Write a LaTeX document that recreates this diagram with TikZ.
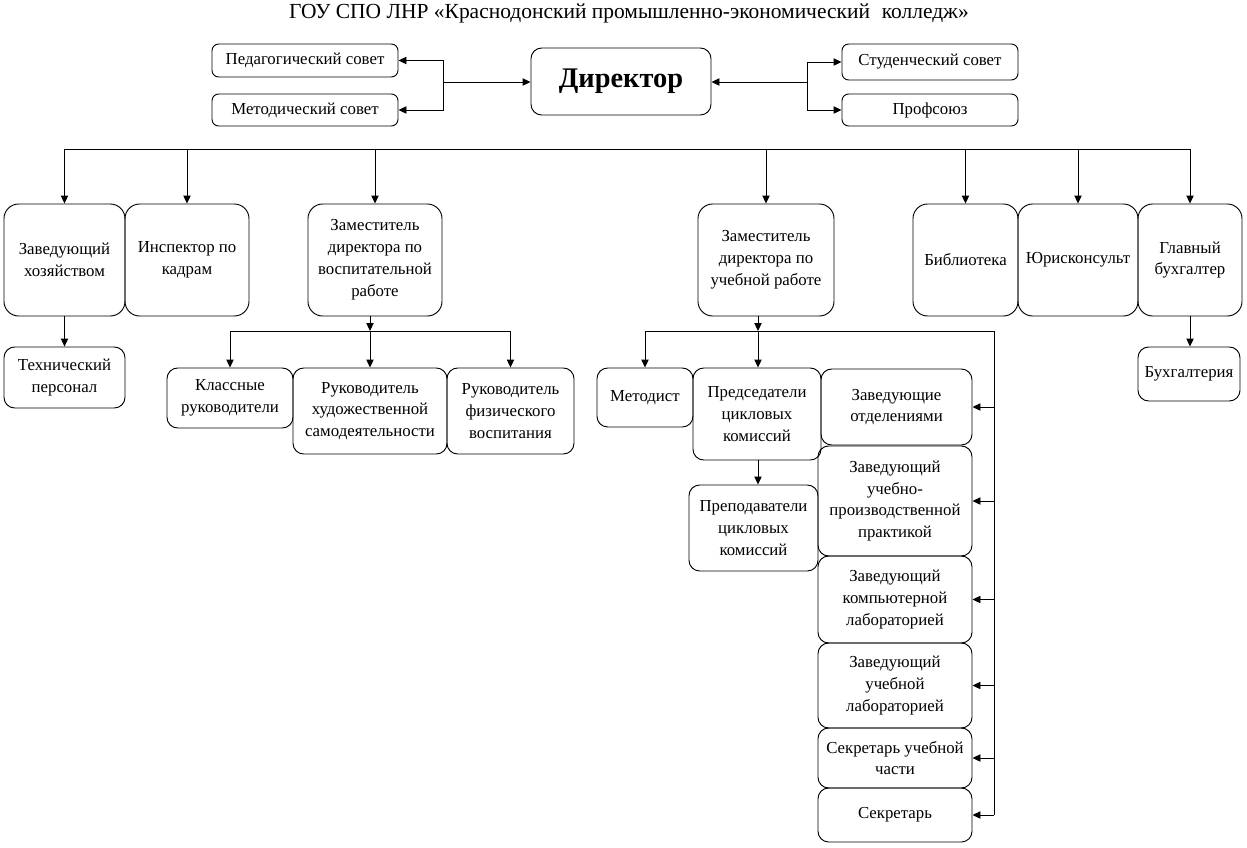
\documentclass[tikz,border=0pt]{standalone}
\usepackage{fontspec}
\setmainfont{Liberation Serif}
\usetikzlibrary{arrows.meta}
\newcommand\mkbox[7]{%
  \pgfmathsetmacro\bw{(#5-#3)*0.75}%
  \pgfmathsetmacro\bh{(#6-#4)*0.75}%
  \node[#1, minimum width=\bw pt, minimum height=\bh pt] (#2) at ({(#3+#5)/2},{(#4+#6)/2}) {#7};%
}
\tikzset{
  base/.style={draw, line width=0.7pt, inner sep=0pt, align=center,
    font=\fontsize{12.6}{16.4}\selectfont},
  sbox/.style={base, rounded corners=5pt},
  mbox/.style={base, rounded corners=8pt},
  lbox/.style={base, rounded corners=11pt},
  conn/.style={line width=0.7pt},
  arr/.style={conn, -{Triangle[length=6pt,width=5.5pt]}},
}
\begin{document}
\begin{tikzpicture}[x=0.75pt,y=-0.75pt]
\useasboundingbox (0,0) rectangle (1247,847);
\node[font=\fontsize{16.1}{20}\selectfont] (title) at (629,13) {ГОУ СПО ЛНР «Краснодонский промышленно-экономический\hspace{0.55em}колледж»};
% top
\mkbox{sbox}{ped}{212}{44}{398}{77}{Педагогический совет}
\mkbox{sbox}{met}{212}{94}{398}{126}{Методический совет}
\mkbox{mbox,font=\fontsize{21.3}{26}\bfseries}{dir}{531}{48}{711}{115}{Директор}
\mkbox{sbox}{stud}{842}{44}{1018}{80}{Студенческий совет}
\mkbox{sbox}{prof}{842}{94}{1018}{126}{Профсоюз}
% row 2
\mkbox{lbox}{zavx}{4}{204}{125}{316}{Заведующий\\хозяйством}
\mkbox{lbox}{insp}{125}{204}{249}{316}{Инспектор по\\кадрам}
\mkbox{lbox}{zv}{308}{204}{442}{316}{Заместитель\\директора по\\воспитательной\\работе}
\mkbox{lbox}{zu}{698}{204}{834}{316}{Заместитель\\директора по\\учебной работе}
\mkbox{lbox}{bib}{913}{204}{1018}{316}{Библиотека}
\mkbox{lbox}{yur}{1018}{204}{1138}{316}{Юрисконсульт}
\mkbox{lbox}{glb}{1138}{204}{1242}{316}{Главный\\бухгалтер}
% row 3
\mkbox{mbox}{tech}{4}{347}{125}{408}{Технический\\персонал}
\mkbox{mbox}{kl}{167}{368}{293}{428}{Классные\\руководители}
\mkbox{mbox}{rhud}{293}{368}{447}{454}{Руководитель\\художественной\\самодеятельности}
\mkbox{mbox}{rfiz}{447}{368}{574}{454}{Руководитель\\физического\\воспитания}
\mkbox{mbox}{metd}{597}{368}{693}{427}{Методист}
\mkbox{mbox}{pred}{693}{368}{821}{460}{Председатели\\цикловых\\комиссий}
\mkbox{mbox}{zo}{821}{369}{972}{445}{Заведующие\\отделениями}
\mkbox{mbox}{prep}{689}{485}{818}{571}{Преподаватели\\цикловых\\комиссий}
\mkbox{mbox}{zupp}{818}{446}{972}{556}{Заведующий\\учебно-\\производственной\\практикой}
\mkbox{mbox}{zkl}{818}{556}{972}{643}{Заведующий\\компьютерной\\лабораторией}
\mkbox{mbox}{zul}{818}{643}{972}{728}{Заведующий\\учебной\\лабораторией}
\mkbox{mbox}{sus}{818}{728}{972}{788}{Секретарь учебной\\части}
\mkbox{mbox}{sec}{818}{788}{972}{842}{Секретарь}
\mkbox{mbox}{buh}{1138}{347}{1240}{401}{Бухгалтерия}
% top connectors
\coordinate (bL) at (443,82);
\coordinate (bR) at (807,82);
\draw[arr] (bL) -- (dir.west |- bL);
\draw[arr] (bL) |- (ped.east);
\draw[arr] (bL) |- (met.east);
\draw[arr] (bR) -- (dir.east |- bR);
\draw[arr] (bR) |- (stud.west);
\draw[arr] (bR) |- (prof.west);
% bus
\coordinate (bus) at (0,149);
\draw[conn] (zavx.north |- bus) -- (glb.north |- bus);
\foreach \n in {zavx,insp,zv,zu,bib,yur,glb}
  \draw[arr] (\n.north |- bus) -- (\n.north);
\draw[arr] (zavx.south) -- (tech.north);
\draw[arr] (glb.south) -- (glb.south |- buh.north);
% vospit
\coordinate (vj) at (370,331);
\draw[arr] (zv.south -| vj) -- (vj);
\draw[conn] (kl.north |- vj) -- (rfiz.north |- vj);
\draw[arr] (vj) -- (vj |- rhud.north);
\draw[arr] (kl.north |- vj) -- (kl.north);
\draw[arr] (rfiz.north |- vj) -- (rfiz.north);
% ucheb
\coordinate (uj) at (758,331);
\coordinate (ur) at (994,331);
\draw[arr] (zu.south -| uj) -- (uj);
\draw[conn] (metd.north |- uj) -- (ur) -- (ur |- sec.east);
\draw[arr] (metd.north |- uj) -- (metd.north);
\draw[arr] (uj) -- (uj |- pred.north);
\foreach \n in {zo,zupp,zkl,zul,sus,sec}
  \draw[arr] (ur |- \n.east) -- (\n.east);
\draw[arr] (uj |- pred.south) -- (uj |- prep.north);
\end{tikzpicture}
\end{document}
